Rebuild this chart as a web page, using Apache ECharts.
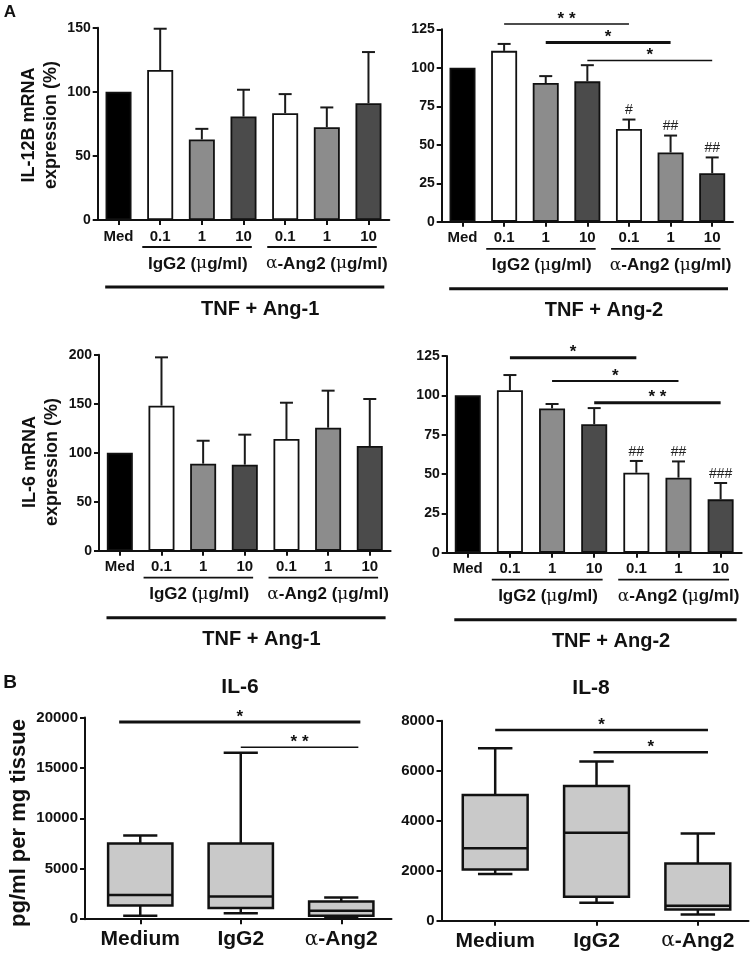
<!DOCTYPE html>
<html><head><meta charset="utf-8">
<script src="https://cdn.jsdelivr.net/npm/echarts@6/dist/echarts.min.js"></script>
<style>html,body{margin:0;padding:0;background:#fff}#c{width:750px;height:954px}</style>
</head><body><div id="c"></div>
<script>
// ---------- DATA ----------
const catKeys = ['Med','IgG2 0.1','IgG2 1','IgG2 10','aAng2 0.1','aAng2 1','aAng2 10'];
const tickLabels = ['Med','0.1','1','10','0.1','1','10'];
const barColors = ['#000000','#ffffff','#8c8c8c','#4b4b4b','#ffffff','#8c8c8c','#4b4b4b'];

const il12Ang1Mean = [100, 117, 62.8, 80.7, 83.3, 72.4, 91.1];
const il12Ang1Sd   = [0, 32.2, 8.3, 20.9, 14.9, 15.4, 39.9];
const il12Ang2Mean = [100, 111, 90.1, 91.2, 60.3, 45, 31.5];
const il12Ang2Sd   = [0, 4.5, 4.5, 10.5, 6.1, 11, 10.3];
const il6Ang1Mean  = [100, 148, 88.8, 87.8, 114, 125.5, 106.8];
const il6Ang1Sd    = [0, 49.3, 23.4, 30.6, 37, 37.8, 48];
const il6Ang2Mean  = [100, 103.2, 91.7, 81.6, 50.8, 47.7, 33.9];
const il6Ang2Sd    = [0, 9.7, 2.8, 10.3, 7.5, 10.3, 10.4];

const il12Ang1Hash = ['', '', '', '', '', '', ''];
const il12Ang2Hash = ['', '', '', '', '#', '##', '##'];
const il6Ang1Hash  = ['', '', '', '', '', '', ''];
const il6Ang2Hash  = ['', '', '', '', '##', '##', '###'];

// significance bars: [fromCategory, toCategory, yValue, label, lineWidth]
const il12Ang2Sig = [[1, 4, 128.5, '**', 1.5], [2, 5, 116.4, '*', 3], [3, 6, 104.7, '*', 1.5]];
const il6Ang2Sig  = [[1, 4, 123.9, '*', 3], [2, 5, 109.1, '*', 2], [3, 6, 95.3, '**', 3]];

// box plots: [x, min, q1, median, q3, max]
const boxNames = ['Medium', 'IgG2', 'α-Ang2'];
const il6Box = [[0, 350, 1350, 2400, 7500, 8300], [1, 600, 1100, 2250, 7500, 16500], [2, 130, 330, 850, 1750, 2150]];
const il8Box = [[0, 1870, 2050, 2900, 5030, 6900], [1, 720, 960, 3520, 5390, 6370], [2, 250, 450, 600, 2290, 3490]];
const il6BoxSig = [[-0.21, 2.19, 19564, '*', 3], [1.0, 2.17, 17055, '**', 1.5]];
const il8BoxSig = [[0.0, 2.1, 7628, '*', 2.5], [0.97, 2.1, 6736, '*', 2.5]];

const yTicksA = [[0, 150, 50], [0, 125, 25], [0, 200, 50], [0, 125, 25]];
const yTicksB = [[0, 20000, 5000], [0, 8000, 2000]];

// ---------- CHART ----------
const FONT = 'Liberation Sans';
const INK = '#111';
const chart = echarts.init(document.getElementById('c'), null, {renderer: 'canvas'});

const grids = [
  {left: 97.7, top: 27.7, width: 291.6, height: 192.3},
  {left: 441.7, top: 29.3, width: 291.3, height: 192.5},
  {left: 99, top: 354.7, width: 291.6, height: 196},
  {left: 446.7, top: 356, width: 295, height: 196.7},
  {left: 85, top: 717.5, width: 306.5, height: 201.7},
  {left: 441.5, top: 720.7, width: 307, height: 200}
];

function yAxisCfg(g, t) {
  return {
    type: 'value', gridIndex: g, min: t[0], max: t[1], interval: t[2],
    axisLine: {show: true, onZero: false, lineStyle: {color: INK, width: 2}},
    axisTick: {show: true, length: 5, lineStyle: {color: INK, width: 2}},
    splitLine: {show: false},
    axisLabel: {margin: 7, color: INK, fontFamily: FONT, fontWeight: 'bold', fontSize: g >= 4 ? 15 : 14,
      formatter: v => String(v)}
  };
}

const xAxes = [], yAxes = [], series = [];
const meansA = [il12Ang1Mean, il12Ang2Mean, il6Ang1Mean, il6Ang2Mean];
const sdsA = [il12Ang1Sd, il12Ang2Sd, il6Ang1Sd, il6Ang2Sd];
const hashA = [il12Ang1Hash, il12Ang2Hash, il6Ang1Hash, il6Ang2Hash];

function makeErr(hashArr) {
  return function (params, api) {
    const i = api.value(0), m = api.value(1), t = api.value(2);
    const base = api.coord([i, m]);
    const top = api.coord([i, t]);
    const ch = [];
    if (t > m) {
      ch.push({type: 'line', shape: {x1: base[0], y1: base[1], x2: top[0], y2: top[1]}, style: {stroke: '#1a1a1a', lineWidth: 2}});
      ch.push({type: 'line', shape: {x1: top[0] - 6.5, y1: top[1], x2: top[0] + 6.5, y2: top[1]}, style: {stroke: '#1a1a1a', lineWidth: 2}});
    }
    const h = hashArr[params.dataIndex];
    if (h) ch.push({type: 'text', x: top[0], y: top[1] - 2,
      style: {text: h, fontSize: 14, fontFamily: 'Liberation Sans', fontWeight: 'normal', fill: '#222',
        align: 'center', verticalAlign: 'bottom', textAlign: 'center', textVerticalAlign: 'bottom'}});
    return {type: 'group', children: ch};
  };
}

for (let g = 0; g < 4; g++) {
  xAxes.push({
    type: 'category', gridIndex: g, data: catKeys,
    axisLine: {show: true, onZero: false, lineStyle: {color: INK, width: 2}},
    axisTick: {show: true, alignWithLabel: true, length: 5, lineStyle: {color: INK, width: 2}},
    axisLabel: {interval: 0, margin: 9, color: INK, fontFamily: FONT, fontWeight: 'bold', fontSize: 15,
      formatter: (v, idx) => tickLabels[idx]}
  });
  yAxes.push(yAxisCfg(g, yTicksA[g]));
  series.push({
    type: 'bar', xAxisIndex: g, yAxisIndex: g, barWidth: 26,
    itemStyle: {borderColor: '#111', borderWidth: 1.8},
    data: meansA[g].map((v, i) => ({value: v, itemStyle: {color: barColors[i]}}))
  });
  series.push({
    type: 'custom', xAxisIndex: g, yAxisIndex: g, z: 5,
    encode: {x: 0, y: [1, 2]},
    renderItem: makeErr(hashA[g]),
    data: meansA[g].map((m, i) => [i, m, m + sdsA[g][i]])
  });
}

function boxRender(params, api) {
  const x = api.value(0);
  const mn = api.value(1), q1 = api.value(2), md = api.value(3), q3 = api.value(4), mx = api.value(5);
  const half = api.size([0.32, 0])[0];
  const cap = api.size([0.17, 0])[0];
  const pMn = api.coord([x, mn]), pQ1 = api.coord([x, q1]), pMd = api.coord([x, md]),
        pQ3 = api.coord([x, q3]), pMx = api.coord([x, mx]);
  const cx = pMd[0];
  const ls = {stroke: '#111', lineWidth: 2.5};
  return {type: 'group', children: [
    {type: 'line', shape: {x1: cx, y1: pMx[1], x2: cx, y2: pQ3[1]}, style: ls},
    {type: 'line', shape: {x1: cx - cap, y1: pMx[1], x2: cx + cap, y2: pMx[1]}, style: ls},
    {type: 'line', shape: {x1: cx, y1: pQ1[1], x2: cx, y2: pMn[1]}, style: ls},
    {type: 'line', shape: {x1: cx - cap, y1: pMn[1], x2: cx + cap, y2: pMn[1]}, style: ls},
    {type: 'rect', shape: {x: cx - half, y: pQ3[1], width: 2 * half, height: pQ1[1] - pQ3[1]},
      style: {fill: '#c9c9c9', stroke: '#111', lineWidth: 2.5}},
    {type: 'line', shape: {x1: cx - half, y1: pMd[1], x2: cx + half, y2: pMd[1]}, style: ls}
  ]};
}

const boxData = [il6Box, il8Box];
const bMin = [-0.55, -0.53];
for (let k = 0; k < 2; k++) {
  const g = 4 + k;
  xAxes.push({
    type: 'value', gridIndex: g, min: bMin[k], max: 2.5,
    splitLine: {show: false},
    axisLine: {show: true, onZero: false, lineStyle: {color: INK, width: 2}},
    axisTick: {show: true, length: 5, customValues: [0, 1, 2], lineStyle: {color: INK, width: 2}},
    axisLabel: {customValues: [0, 1, 2], margin: 10, color: INK, fontFamily: FONT, fontWeight: 'bold', fontSize: 21,
      formatter: v => { const n = boxNames[Math.round(v)]; return n.startsWith('α') ? '{g|α}' + n.slice(1) : n; },
      rich: {g: {fontFamily: 'DejaVu Serif', fontWeight: 'normal', fontSize: 20, color: INK}}}
  });
  yAxes.push(yAxisCfg(g, yTicksB[k]));
  series.push({
    type: 'custom', xAxisIndex: g, yAxisIndex: g,
    encode: {x: 0, y: [1, 2, 3, 4, 5]},
    renderItem: boxRender,
    data: boxData[k]
  });
}

chart.setOption({
  animation: false,
  backgroundColor: '#fff',
  textStyle: {fontFamily: FONT},
  grid: grids,
  xAxis: xAxes,
  yAxis: yAxes,
  series: series
});

// ---------- ANNOTATIONS (positions derived from the axes) ----------
function px(g, xi, y) {
  const a = chart.convertToPixel({xAxisIndex: g, yAxisIndex: g}, [0, y]);
  const b = chart.convertToPixel({xAxisIndex: g, yAxisIndex: g}, [1, y]);
  return [a[0] + xi * (b[0] - a[0]), a[1]];
}
function txt(x, y, text, size, weight, extra) {
  return Object.assign({type: 'text', x: x, y: y, z: 100,
    style: {text: text, fontSize: size, fontWeight: weight || 'bold', fontFamily: FONT, fill: INK,
      align: 'center', verticalAlign: 'middle', textAlign: 'center', textVerticalAlign: 'middle',
      rich: {g: {fontFamily: 'DejaVu Serif', fontWeight: 'normal', fontSize: size, fill: INK}}}}, extra || {});
}
function hline(x1, x2, y, w) {
  return {type: 'line', z: 100, shape: {x1: x1, y1: y, x2: x2, y2: y}, style: {stroke: INK, lineWidth: w}};
}

const gr = [];
const tnf = ['TNF + Ang-1', 'TNF + Ang-2', 'TNF + Ang-1', 'TNF + Ang-2'];
for (let g = 0; g < 4; g++) {
  const y0 = px(g, 0, 0)[1];
  const band = px(g, 1, 0)[0] - px(g, 0, 0)[0];
  const X = i => px(g, i, 0)[0];
  gr.push(hline(X(1) - 0.43 * band, X(3) + 0.2 * band, y0 + 27, 1.8));
  gr.push(hline(X(4) - 0.43 * band, X(6) + 0.2 * band, y0 + 27, 1.8));
  gr.push(txt(X(2) - 4, y0 + 44, 'IgG2 ({g|μ}g/ml)', 17));
  gr.push(txt(X(5), y0 + 44, '{g|α}-Ang2 ({g|μ}g/ml)', 17));
  gr.push(hline(X(0) - 0.32 * band, X(6) + 0.38 * band, y0 + 67, 3));
  gr.push(txt(X(3.4), y0 + 89, tnf[g], 20));
}
function sig(g, arr) {
  arr.forEach(s => {
    const a = px(g, s[0], s[2]), b = px(g, s[1], s[2]);
    gr.push(hline(a[0], b[0], a[1], s[4]));
    gr.push(txt((a[0] + b[0]) / 2, a[1] - 5, s[3].split('').join(' '), 17));
  });
}
sig(1, il12Ang2Sig);
sig(3, il6Ang2Sig);
sig(4, il6BoxSig);
sig(5, il8BoxSig);

gr.push(txt(40, 125, 'IL-12B mRNA\nexpression (%)', 18, 'bold', {rotation: Math.PI / 2}));
gr[gr.length - 1].style.lineHeight = 22;
gr.push(txt(41, 462, 'IL-6 mRNA\nexpression (%)', 18, 'bold', {rotation: Math.PI / 2}));
gr[gr.length - 1].style.lineHeight = 22;
gr.push(txt(19, 823, 'pg/ml per mg tissue', 22, 'bold', {rotation: Math.PI / 2}));
gr.push(txt(240, 687.5, 'IL-6', 21));
gr.push(txt(591, 688, 'IL-8', 21));
gr.push(txt(10, 12.5, 'A', 17));
gr.push(txt(10, 683, 'B', 19));

chart.setOption({graphic: {elements: gr}});
</script>
</body></html>
